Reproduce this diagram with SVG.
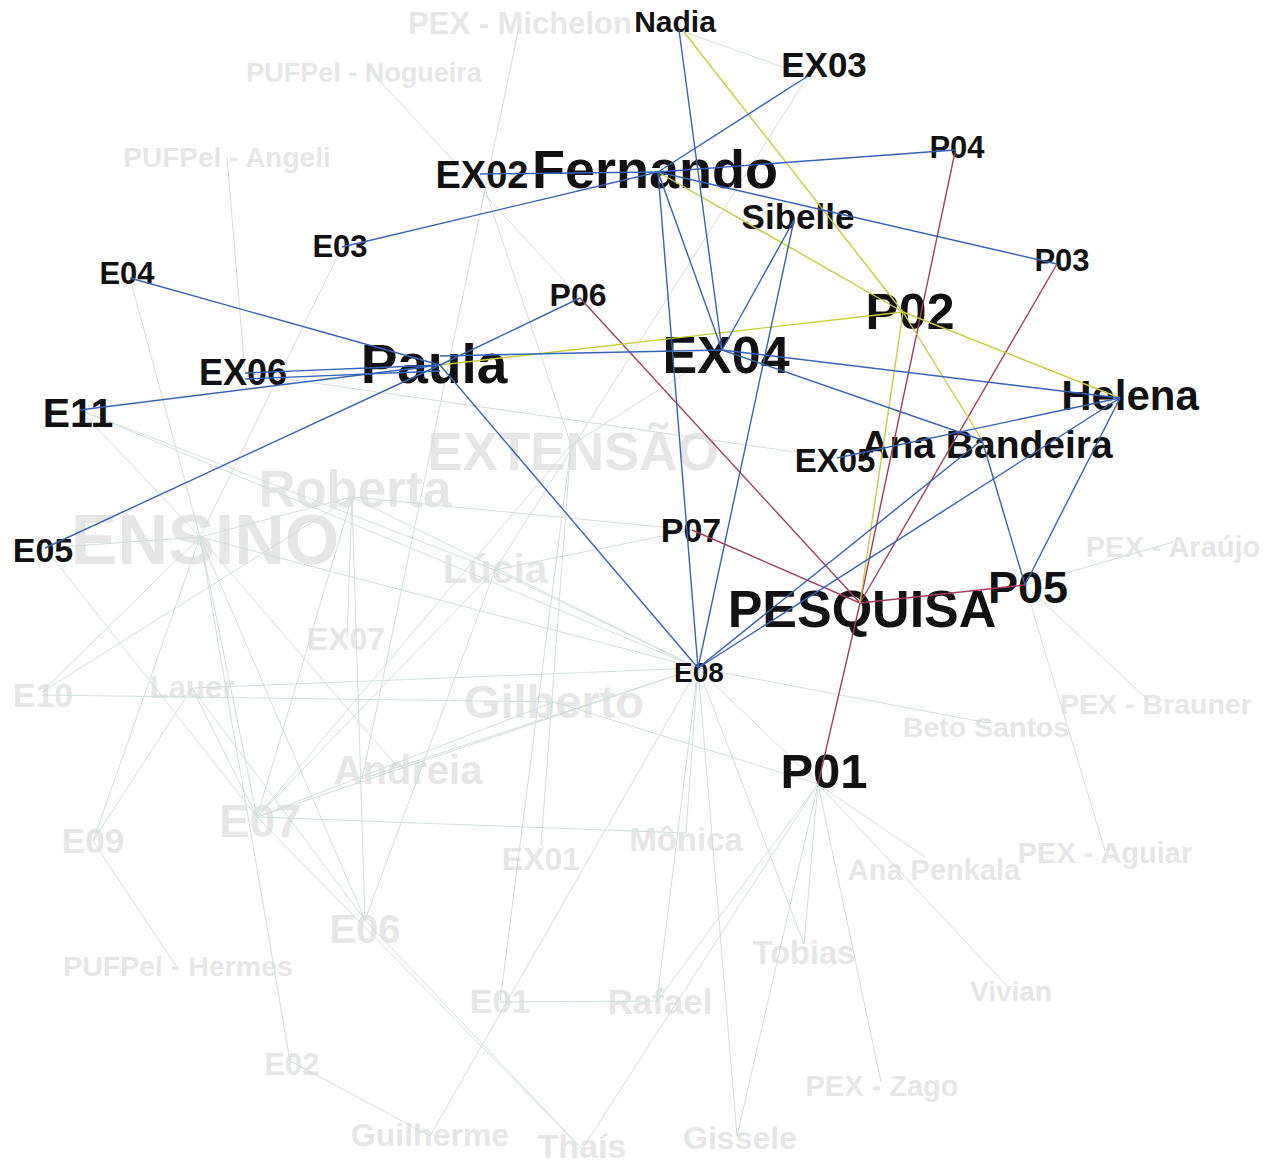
<svg xmlns="http://www.w3.org/2000/svg" width="1272" height="1164" viewBox="0 0 1272 1164">
<style>
text{font-family:"Liberation Sans",Arial,sans-serif;font-weight:bold;text-anchor:middle}
.h{fill:#111}
.f{fill:#e6e6e6}
.fe line{stroke:#d3dddb;stroke-width:1}
.be line{stroke:#3563b5;stroke-width:1.4}
.ye line{stroke:#c6cc3a;stroke-width:1.4}
.me line{stroke:#a53d5e;stroke-width:1.4}
</style>
<rect width="1272" height="1164" fill="#fff"/>
<g id="nodes-faint">
<g id="n-pex-michelon"><text class="f" x="520" y="34" font-size="31">PEX - Michelon</text></g>
<g id="n-pufpel-nogueira"><text class="f" x="364" y="82" font-size="27">PUFPel - Nogueira</text></g>
<g id="n-pufpel-angeli"><text class="f" x="227" y="167" font-size="28">PUFPel - Angeli</text></g>
<g id="n-extensao"><text class="f" x="573" y="470" font-size="53">EXTENSÃO</text></g>
<g id="n-roberta"><text class="f" x="355" y="507" font-size="51">Roberta</text></g>
<g id="n-ensino"><text class="f" x="205" y="564" font-size="70">ENSINO</text></g>
<g id="n-lucia"><text class="f" x="495" y="583" font-size="40">Lúcia</text></g>
<g id="n-ex07"><text class="f" x="346" y="650" font-size="32">EX07</text></g>
<g id="n-e10"><text class="f" x="43" y="707" font-size="34">E10</text></g>
<g id="n-lauer"><text class="f" x="192" y="698" font-size="31">Lauer</text></g>
<g id="n-gilberto"><text class="f" x="554" y="718" font-size="47">Gilberto</text></g>
<g id="n-andreia"><text class="f" x="408" y="784" font-size="40">Andreia</text></g>
<g id="n-e07"><text class="f" x="260" y="837" font-size="46">E07</text></g>
<g id="n-e09"><text class="f" x="93" y="853" font-size="35">E09</text></g>
<g id="n-monica"><text class="f" x="686" y="851" font-size="33">Mônica</text></g>
<g id="n-ex01"><text class="f" x="541" y="870" font-size="32">EX01</text></g>
<g id="n-ana-penkala"><text class="f" x="934" y="880" font-size="29">Ana Penkala</text></g>
<g id="n-pex-aguiar"><text class="f" x="1105" y="863" font-size="29">PEX - Aguiar</text></g>
<g id="n-pex-araujo"><text class="f" x="1173" y="557" font-size="29">PEX - Araújo</text></g>
<g id="n-pex-brauner"><text class="f" x="1156" y="714" font-size="28.5">PEX - Brauner</text></g>
<g id="n-beto-santos"><text class="f" x="986" y="737" font-size="28.5">Beto Santos</text></g>
<g id="n-e06"><text class="f" x="365" y="943" font-size="40">E06</text></g>
<g id="n-pufpel-hermes"><text class="f" x="178" y="976" font-size="28.5">PUFPel - Hermes</text></g>
<g id="n-tobias"><text class="f" x="804" y="964" font-size="32.5">Tobias</text></g>
<g id="n-vivian"><text class="f" x="1011" y="1001" font-size="28">Vivian</text></g>
<g id="n-e01"><text class="f" x="500" y="1013" font-size="34">E01</text></g>
<g id="n-rafael"><text class="f" x="660" y="1014" font-size="35">Rafael</text></g>
<g id="n-e02"><text class="f" x="292" y="1075" font-size="31">E02</text></g>
<g id="n-pex-zago"><text class="f" x="882" y="1096" font-size="29">PEX - Zago</text></g>
<g id="n-guilherme"><text class="f" x="430" y="1146" font-size="32">Guilherme</text></g>
<g id="n-thais"><text class="f" x="582" y="1158" font-size="34">Thaís</text></g>
<g id="n-gissele"><text class="f" x="740" y="1149" font-size="32">Gissele</text></g>
</g>
<g id="connectors-faint" class="fe">
<line x1="200" y1="537" x2="80" y2="410"/>
<line x1="200" y1="537" x2="130" y2="278"/>
<line x1="200" y1="537" x2="342" y2="247"/>
<line x1="200" y1="537" x2="698" y2="668"/>
<line x1="200" y1="537" x2="42" y2="692"/>
<line x1="200" y1="537" x2="93" y2="841"/>
<line x1="200" y1="537" x2="257" y2="817"/>
<line x1="200" y1="537" x2="290" y2="1061"/>
<line x1="200" y1="537" x2="365" y2="920"/>
<line x1="200" y1="537" x2="45" y2="548"/>
<line x1="200" y1="537" x2="352" y2="497"/>
<line x1="200" y1="537" x2="400" y2="770"/>
<line x1="45" y1="548" x2="257" y2="817"/>
<line x1="42" y1="692" x2="352" y2="497"/>
<line x1="42" y1="695" x2="554" y2="702"/>
<line x1="554" y1="702" x2="818" y2="784"/>
<line x1="192" y1="688" x2="698" y2="668"/>
<line x1="192" y1="688" x2="93" y2="841"/>
<line x1="192" y1="688" x2="365" y2="920"/>
<line x1="192" y1="688" x2="257" y2="817"/>
<line x1="80" y1="410" x2="495" y2="570"/>
<line x1="80" y1="410" x2="698" y2="668"/>
<line x1="352" y1="497" x2="347" y2="638"/>
<line x1="352" y1="497" x2="365" y2="920"/>
<line x1="352" y1="497" x2="692" y2="530"/>
<line x1="352" y1="497" x2="257" y2="817"/>
<line x1="352" y1="497" x2="698" y2="668"/>
<line x1="495" y1="570" x2="698" y2="668"/>
<line x1="495" y1="570" x2="257" y2="817"/>
<line x1="495" y1="570" x2="365" y2="920"/>
<line x1="692" y1="530" x2="495" y2="570"/>
<line x1="245" y1="373" x2="837" y2="458"/>
<line x1="571" y1="445" x2="541" y2="846"/>
<line x1="571" y1="445" x2="500" y2="1002"/>
<line x1="571" y1="445" x2="480" y2="174"/>
<line x1="571" y1="445" x2="722" y2="350"/>
<line x1="571" y1="445" x2="257" y2="817"/>
<line x1="808" y1="76" x2="495" y2="570"/>
<line x1="679" y1="30" x2="808" y2="76"/>
<line x1="519" y1="27" x2="362" y2="779"/>
<line x1="367" y1="67" x2="580" y2="298"/>
<line x1="227" y1="157" x2="245" y2="373"/>
<line x1="362" y1="779" x2="698" y2="668"/>
<line x1="257" y1="817" x2="698" y2="668"/>
<line x1="257" y1="817" x2="554" y2="702"/>
<line x1="257" y1="817" x2="686" y2="833"/>
<line x1="257" y1="817" x2="582" y2="1149"/>
<line x1="365" y1="920" x2="582" y2="1149"/>
<line x1="698" y1="668" x2="686" y2="833"/>
<line x1="698" y1="668" x2="657" y2="1001"/>
<line x1="698" y1="668" x2="737" y2="1136"/>
<line x1="698" y1="668" x2="804" y2="944"/>
<line x1="698" y1="668" x2="430" y2="1136"/>
<line x1="698" y1="668" x2="988" y2="723"/>
<line x1="698" y1="668" x2="818" y2="784"/>
<line x1="93" y1="841" x2="177" y2="967"/>
<line x1="290" y1="1061" x2="430" y2="1136"/>
<line x1="500" y1="1002" x2="657" y2="1001"/>
<line x1="818" y1="784" x2="657" y2="1001"/>
<line x1="818" y1="784" x2="582" y2="1149"/>
<line x1="818" y1="784" x2="804" y2="944"/>
<line x1="818" y1="784" x2="737" y2="1136"/>
<line x1="818" y1="784" x2="881" y2="1082"/>
<line x1="818" y1="784" x2="1008" y2="987"/>
<line x1="818" y1="784" x2="925" y2="857"/>
<line x1="1025" y1="585" x2="1105" y2="851"/>
<line x1="1025" y1="585" x2="1148" y2="700"/>
<line x1="1025" y1="585" x2="1173" y2="542"/>
</g>
<g id="nodes">
<g id="n-nadia"><text class="h" x="675" y="32" font-size="30">Nadia</text></g>
<g id="n-ex03"><text class="h" x="824" y="77" font-size="35">EX03</text></g>
<g id="n-ex02"><text class="h" x="482" y="188" font-size="38">EX02</text></g>
<g id="n-fernando"><text class="h" x="655" y="188" font-size="54">Fernando</text></g>
<g id="n-p04"><text class="h" x="957" y="158" font-size="31">P04</text></g>
<g id="n-sibelle"><text class="h" x="798" y="229" font-size="35">Sibelle</text></g>
<g id="n-e03"><text class="h" x="340" y="257" font-size="31">E03</text></g>
<g id="n-p03"><text class="h" x="1062" y="271" font-size="31">P03</text></g>
<g id="n-e04"><text class="h" x="127" y="284" font-size="31">E04</text></g>
<g id="n-p06"><text class="h" x="578" y="306" font-size="32">P06</text></g>
<g id="n-p02"><text class="h" x="910" y="329" font-size="50">P02</text></g>
<g id="n-paula"><text class="h" x="434" y="383" font-size="55">Paula</text></g>
<g id="n-ex04"><text class="h" x="726" y="373" font-size="52">EX04</text></g>
<g id="n-ex06"><text class="h" x="243" y="385" font-size="36">EX06</text></g>
<g id="n-helena"><text class="h" x="1130" y="410" font-size="42">Helena</text></g>
<g id="n-e11"><text class="h" x="78" y="427" font-size="41">E11</text></g>
<g id="n-ana-bandeira"><text class="h" x="987" y="458" font-size="39">Ana Bandeira</text></g>
<g id="n-ex05"><text class="h" x="835" y="472" font-size="33">EX05</text></g>
<g id="n-p07"><text class="h" x="691" y="542" font-size="34">P07</text></g>
<g id="n-e05"><text class="h" x="43" y="562" font-size="34">E05</text></g>
<g id="n-p05"><text class="h" x="1028" y="603" font-size="45">P05</text></g>
<g id="n-pesquisa"><text class="h" x="862" y="627" font-size="52">PESQUISA</text></g>
<g id="n-e08"><text class="h" x="699" y="682" font-size="28">E08</text></g>
<g id="n-p01"><text class="h" x="824" y="788" font-size="49">P01</text></g>
</g>
<g id="connectors">
<g class="me">
<line x1="955" y1="152" x2="860" y2="603"/>
<line x1="1057" y1="264" x2="860" y2="603"/>
<line x1="580" y1="298" x2="860" y2="603"/>
<line x1="692" y1="530" x2="860" y2="603"/>
<line x1="1025" y1="585" x2="860" y2="603"/>
<line x1="818" y1="784" x2="860" y2="603"/>
</g>
<g class="ye">
<line x1="684" y1="32" x2="903" y2="312"/>
<line x1="658" y1="172" x2="903" y2="312"/>
<line x1="440" y1="365" x2="903" y2="312"/>
<line x1="903" y1="312" x2="1120" y2="398"/>
<line x1="903" y1="312" x2="982" y2="440"/>
<line x1="903" y1="312" x2="860" y2="603"/>
</g>
<g class="be">
<line x1="679" y1="30" x2="722" y2="350"/>
<line x1="658" y1="172" x2="480" y2="174"/>
<line x1="658" y1="172" x2="342" y2="247"/>
<line x1="658" y1="172" x2="808" y2="76"/>
<line x1="658" y1="172" x2="955" y2="150"/>
<line x1="658" y1="172" x2="1057" y2="264"/>
<line x1="658" y1="172" x2="722" y2="350"/>
<line x1="658" y1="172" x2="698" y2="668"/>
<line x1="794" y1="220" x2="722" y2="350"/>
<line x1="794" y1="220" x2="698" y2="668"/>
<line x1="440" y1="365" x2="130" y2="278"/>
<line x1="440" y1="365" x2="245" y2="373"/>
<line x1="440" y1="365" x2="80" y2="410"/>
<line x1="440" y1="365" x2="45" y2="548"/>
<line x1="440" y1="365" x2="580" y2="298"/>
<line x1="440" y1="356" x2="722" y2="350"/>
<line x1="440" y1="365" x2="698" y2="668"/>
<line x1="245" y1="379" x2="440" y2="371"/>
<line x1="722" y1="350" x2="1120" y2="398"/>
<line x1="722" y1="350" x2="982" y2="440"/>
<line x1="1120" y1="398" x2="837" y2="458"/>
<line x1="1120" y1="398" x2="698" y2="668"/>
<line x1="1120" y1="398" x2="1025" y2="585"/>
<line x1="982" y1="440" x2="1025" y2="585"/>
<line x1="982" y1="440" x2="698" y2="668"/>
</g>
</g>
</svg>
